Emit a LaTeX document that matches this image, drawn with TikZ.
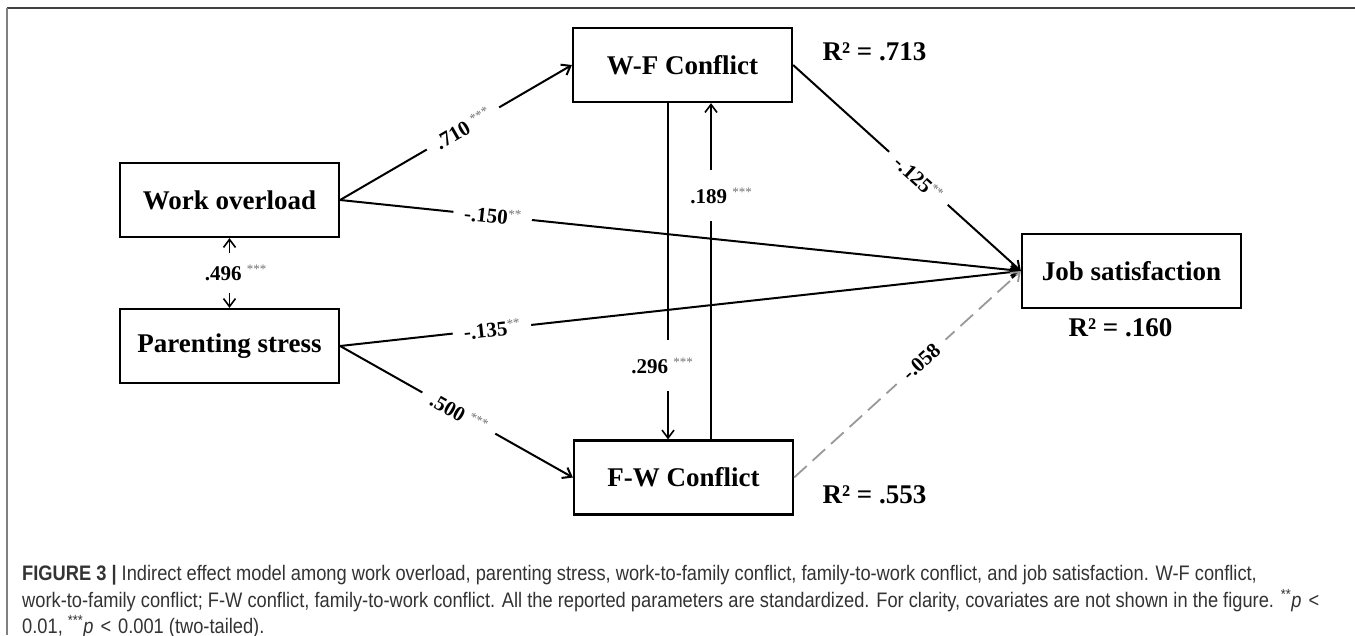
\documentclass[tikz,border=0pt]{standalone}
\usepackage{fontspec}
\setmainfont{Liberation Serif}
\newfontfamily\capfont[FakeStretch=0.87]{Liberation Sans}
\usetikzlibrary{arrows.meta}
\newcommand{\sig}[1]{{\fontsize{13}{13}\selectfont\mdseries\raisebox{7pt}{\color{black!55}#1}}}
\begin{document}
\begin{tikzpicture}[x=1pt,y=-1pt,
  box/.style={draw, line width=2.2pt, minimum width=219pt, minimum height=74pt, inner sep=0pt,
    font=\fontsize{27}{30}\selectfont\bfseries},
  conn/.style={line width=2pt, -{Straight Barb[length=8pt,width=12pt,line width=2pt]}},
  vconn/.style={line width=1.6pt, -{Straight Barb[length=8pt,width=12pt,line width=1.6pt]}},
  lab/.style={font=\fontsize{21}{24}\selectfont\bfseries, fill=white, inner xsep=11pt, inner ysep=2pt},
  vlab/.style={font=\fontsize{21}{24}\selectfont\bfseries, fill=white, inner xsep=2pt, inner ysep=18pt},
  rsq/.style={font=\fontsize{27}{30}\selectfont\bfseries, inner sep=0pt},
  captext/.style={font=\capfont\fontsize{21}{24}\selectfont, text=black!80, inner sep=0pt, anchor=base west},
]
\useasboundingbox (0,0) rectangle (1355,635);
\fill[white] (0,0) rectangle (1355,635);
\draw[black!75, line width=1.5pt] (7,8) -- (1355,8);
\draw[black!50, line width=2pt] (7,8) -- (7,635);

\node[box] (wo) at (229.5,200) {Work overload};
\node[box] (ps) at (229.5,346) {Parenting stress};
\node[box] (wf) at (682.5,65) {W-F Conflict};
\node[box] (fw) at (683.5,477.5) {F-W Conflict};
\node[box] (js) at (1131.5,271) {Job satisfaction};

\node[rsq] (r1) at (874.5,52) {R² = .713};
\node[rsq] (r2) at (874.5,495) {R² = .553};
\node[rsq] (r3) at (1120.5,328) {R² = .160};

\draw[conn] (wo.east) -- node[lab, sloped, pos=0.53] (l710) {.710 \sig{***}} (wf.west);
\draw[conn] (wo.east) -- node[lab, sloped, pos=0.224] (l150) {-.150\sig{**}} (js.west);
\draw[conn] (ps.east) -- node[lab, sloped, pos=0.223] (l135) {-.135\sig{**}} (js.west);
\draw[conn] (ps.east) -- node[lab, sloped, pos=0.51] (l500) {.500 \sig{***}} (fw.west);
\draw[conn] (wf.east) -- node[lab, sloped, pos=0.55] (l125) {-.125\sig{**}} (js.west);
\draw[line width=1.8pt, black!40, dash pattern=on 17pt off 8pt,
  -{Straight Barb[length=8pt,width=12pt,line width=1.8pt]}]
  (fw.east) -- node[lab, sloped, pos=0.56, text=black] (l058) {-.058} (js.west);

\draw[vconn] ([xshift=-14.5pt]wf.south) -- node[vlab, pos=0.78, xshift=-6pt] (l296) {.296 \sig{***}} ([xshift=-15.5pt]fw.north);
\draw[vconn] ([xshift=27.5pt]fw.north) -- node[vlab, pos=0.725, xshift=10pt] (l189) {.189 \sig{***}} ([xshift=28.5pt]wf.south);

\draw[vconn, {Straight Barb[length=8pt,width=12pt,line width=1.6pt]}-{Straight Barb[length=8pt,width=12pt,line width=1.6pt]}]
  (ps.north) -- node[vlab, inner ysep=12pt, xshift=6pt] (l496) {.496 \sig{***}} (wo.south);

\node[captext] (c1) at (22,580) {\textbf{FIGURE 3 |} Indirect effect model among work overload, parenting stress, work-to-family conflict, family-to-work conflict, and job satisfaction. W-F conflict,};
\node[captext] (c2) at (22,607) {work-to-family conflict; F-W conflict, family-to-work conflict. All the reported parameters are standardized. For clarity, covariates are not shown in the figure. \textsuperscript{**}\textit{p}\,\,<};
\node[captext] (c3) at (22,633) {0.01, \textsuperscript{***}\textit{p}\,\,<\,\,0.001 (two-tailed).};
\end{tikzpicture}
\end{document}
